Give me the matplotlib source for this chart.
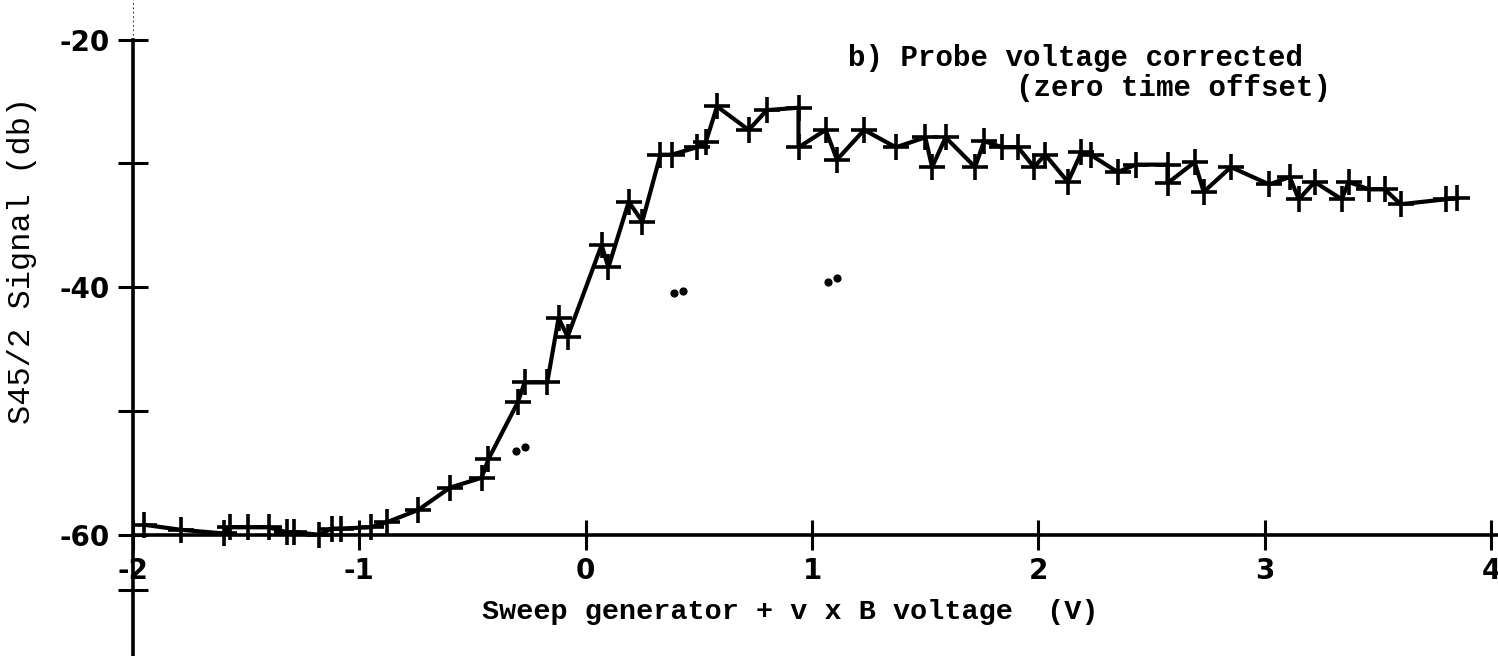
"""S45/2 signal vs sweep voltage, probe voltage corrected"""

import matplotlib
matplotlib.use("Agg")
import matplotlib.pyplot as plt

# sweep generator + v x B voltage (V)
sweep_v = [-1.95, -1.79, -1.60, -1.57, -1.49, -1.40, -1.32, -1.29, -1.18, -1.12,
           -1.08, -0.95, -0.88, -0.74, -0.60, -0.46, -0.43, -0.30, -0.27, -0.17,
           -0.12, -0.08, 0.07, 0.10, 0.19, 0.25, 0.33, 0.38, 0.49, 0.53,
           0.58, 0.72, 0.80, 0.94, 0.94, 1.06, 1.11, 1.23, 1.37, 1.50,
           1.53, 1.59, 1.72, 1.76, 1.84, 1.91, 1.98, 2.03, 2.13, 2.19,
           2.23, 2.35, 2.43, 2.57, 2.57, 2.69, 2.73, 2.85, 3.02, 3.11,
           3.15, 3.22, 3.34, 3.37, 3.46, 3.53, 3.60, 3.80, 3.85]
# S45/2 signal (db)
signal_db = [-59.2, -59.6, -59.9, -59.4, -59.4, -59.4, -59.8, -59.8, -60.0, -59.5,
             -59.5, -59.4, -59.0, -58.0, -56.2, -55.4, -53.9, -49.3, -47.7, -47.7,
             -42.5, -44.0, -36.6, -38.4, -33.1, -34.7, -29.3, -29.3, -28.7, -28.3,
             -25.4, -27.3, -25.7, -25.5, -28.7, -27.3, -29.7, -27.3, -28.7, -27.9,
             -30.3, -27.9, -30.3, -28.2, -28.7, -28.7, -30.3, -29.3, -31.5, -29.1,
             -29.3, -30.7, -30.1, -30.1, -31.6, -29.9, -32.3, -30.3, -31.7, -31.1,
             -32.9, -31.5, -32.9, -31.5, -32.1, -32.1, -33.3, -32.9, -32.8]

# loose pencil dots on the sheet
dot_v = [-0.31, -0.27, 0.39, 0.43, 1.07, 1.11]
dot_db = [-53.2, -52.9, -40.5, -40.3, -39.6, -39.3]

yticks = [-64.5, -60, -50, -40, -30, -20]
yticklabels = ['', '-60', '', '-40', '', '-20']
xticks = [-2, -1, 0, 1, 2, 3, 4]
xticklabels = ['-2', '-1', '0', '1', '2', '3', '4']

mono = 'Liberation Mono'

fig = plt.figure(figsize=(14.98, 6.56), dpi=100)
ax = fig.add_axes([133 / 1498, 0, 1 - 133 / 1498, 1])

ax.plot(sweep_v, signal_db, color='black', lw=3, marker='+',
        markersize=19, markeredgewidth=2.6, solid_joinstyle='round')
ax.scatter(dot_v, dot_db, s=24, color='black')

ax.set_xlim(-2, 4.03)
ax.set_ylim(-69.8, -16.8)

# axes drawn like the hand made graph: crossing at (-2, -60)
for s in ['top', 'right']:
    ax.spines[s].set_visible(False)
ax.spines['bottom'].set_position(('data', -60))
ax.spines['left'].set_position(('data', -2))
ax.spines['left'].set_bounds(-69.8, -20)
for s in ['bottom', 'left']:
    ax.spines[s].set_linewidth(2.6)
ax.plot([-2, -2], [-20, -16.8], color='black', lw=1.2, ls=':')

ax.set_xticks(xticks)
ax.set_xticklabels(xticklabels)
ax.set_yticks(yticks)
ax.set_yticklabels(yticklabels)
ax.tick_params(direction='inout', length=22, width=2.2, labelsize=20)
ax.tick_params(axis='x', pad=5)
ax.tick_params(axis='y', pad=6)
for lab in ax.get_xticklabels() + ax.get_yticklabels():
    lab.set_fontweight('bold')

fig.text(0.015, 1 - 260 / 656, 'S45/2 Signal (db)', rotation=90,
         family=mono, fontsize=23, ha='center', va='center')
fig.text(790 / 1498, 1 - 612 / 656, 'Sweep generator + v x B voltage  (V)',
         family=mono, fontsize=20.5, fontweight='bold', ha='center', va='center')
fig.text(848 / 1498, 1 - 58 / 656, 'b) Probe voltage corrected',
         family=mono, fontsize=21, fontweight='bold', ha='left', va='center')
fig.text(1016 / 1498, 1 - 88 / 656, '(zero time offset)',
         family=mono, fontsize=21, fontweight='bold', ha='left', va='center')

fig.savefig('out.png', dpi=100)
